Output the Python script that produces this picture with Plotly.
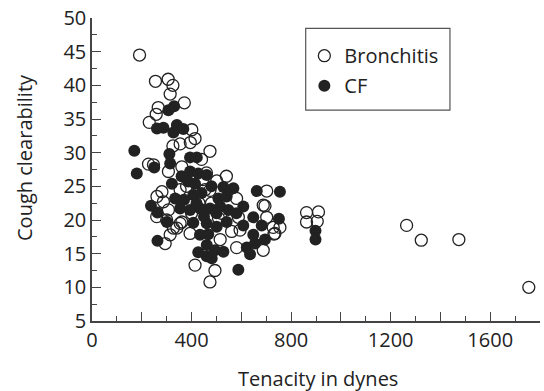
import plotly.graph_objects as go

# Tenacity (dynes) and cough clearability for each sputum sample
bronchitis_tenacity = [
    191, 255, 306, 325, 314, 371, 266, 258, 230, 401, 414, 325, 354, 474,
    227, 247, 307, 361, 501, 354, 454, 474, 281, 261, 287, 307, 581, 688,
    702, 702, 728, 341, 314, 294, 361, 394, 515, 581, 688, 414, 494, 474,
    508, 588, 695, 755, 731, 862, 910, 862, 905, 1264, 1323, 1474, 1755,
    327, 354, 561, 595, 735, 380, 430, 445, 520, 400, 460, 480, 540, 260,
    300, 440, 395,
]
bronchitis_clearability = [
    44.5, 40.6, 40.9, 40.0, 38.7, 37.4, 36.7, 35.7, 34.5, 33.4, 32.1, 31.0, 31.3, 30.2,
    28.3, 28.2, 27.2, 27.9, 25.8, 24.5, 24.5, 24.4, 24.2, 23.5, 22.7, 21.5, 23.2, 22.2,
    24.3, 20.4, 18.9, 18.8, 17.8, 16.5, 19.7, 18.0, 17.1, 15.9, 15.5, 13.3, 12.5, 10.8,
    20.3, 20.4, 22.1, 18.9, 17.9, 21.1, 21.2, 19.7, 19.8, 19.2, 17.0, 17.1, 10.0,
    18.8, 19.5, 18.3, 18.5, 18.0, 25.0, 22.5, 26.0, 21.0, 21.0, 27.0, 22.5, 26.5, 20.5,
    20.0, 29.0, 31.5,
]

cf_tenacity = [
    170, 180, 250, 261, 287, 307, 330, 341, 367, 327, 311, 394, 421, 314,
    394, 427, 461, 321, 387, 414, 528, 568, 662, 755, 334, 407, 508, 541,
    237, 263, 354, 394, 434, 474, 515, 548, 608, 301, 407, 461, 501, 541,
    608, 648, 682, 751, 263, 434, 467, 648, 695, 622, 635, 427, 461, 494,
    528, 461, 481, 588, 898, 898, 655, 440, 480, 370, 450, 500, 420, 360,
    580,
]
cf_clearability = [
    30.3, 26.9, 27.8, 33.6, 33.7, 36.3, 36.9, 34.1, 33.5, 33.0, 29.8, 29.3, 29.3, 28.4,
    27.2, 26.9, 26.7, 25.4, 25.7, 25.4, 24.9, 24.7, 24.3, 24.2, 23.2, 23.7, 23.2, 23.5,
    22.1, 21.1, 21.7, 21.5, 21.7, 21.7, 22.0, 21.5, 22.0, 19.7, 19.6, 19.5, 19.0, 19.7,
    19.2, 20.4, 19.2, 20.2, 16.9, 17.8, 17.9, 17.8, 17.1, 15.9, 14.9, 15.2, 14.6, 15.5,
    15.3, 16.3, 14.3, 12.6, 18.4, 17.1, 16.5, 24.0, 25.0, 23.0, 20.5, 21.0, 22.5, 26.5,
    21.0,
]

x_tickvals = [0, 200, 400, 600, 800, 1000, 1200, 1400, 1600, 1800]
x_ticktext = ["0", "", "400", "", "800", "", "1200", "", "1600", ""]
y_tickvals = [5, 10, 15, 20, 25, 30, 35, 40, 45, 50]

FONT = "Open Sans"
INK = "#222222"
AXIS = "#444444"

fig = go.Figure()
fig.add_trace(go.Scatter(
    x=bronchitis_tenacity, y=bronchitis_clearability, mode="markers",
    name="Bronchitis", legendgroup="b",
    marker=dict(symbol="circle-open", size=12, color=INK, line=dict(width=1.3, color=INK)),
))
fig.add_trace(go.Scatter(
    x=cf_tenacity, y=cf_clearability, mode="markers",
    name="CF", legendgroup="c",
    marker=dict(symbol="circle", size=12, color=INK, line=dict(width=0)),
))

axis_common = dict(
    showgrid=False, zeroline=False, showline=True, linecolor=AXIS, linewidth=1.5,
    ticks="inside", ticklen=9, tickwidth=1.2, tickcolor=AXIS,
    tickfont=dict(family=FONT, size=20, color=INK),
)
fig.update_xaxes(
    range=[0, 1800], tickmode="array", tickvals=x_tickvals, ticktext=x_ticktext,
    minor=dict(dtick=100, tick0=0, ticks="inside", ticklen=5, tickcolor=AXIS, tickwidth=1),
    **axis_common,
)
fig.update_yaxes(
    range=[5, 50], tickmode="array", tickvals=y_tickvals,
    minor=dict(dtick=2.5, tick0=0, ticks="inside", ticklen=5, tickcolor=AXIS, tickwidth=1),
    **axis_common,
)

fig.add_annotation(text="Tenacity in dynes", xref="paper", yref="paper",
                   x=0.505, y=-0.19, yanchor="middle", showarrow=False,
                   font=dict(family=FONT, size=20, color=INK))
fig.add_annotation(text="Cough clearability", xref="paper", yref="paper",
                   x=-0.152, y=0.541, xanchor="center", yanchor="middle",
                   textangle=-90, showarrow=False,
                   font=dict(family=FONT, size=20, color=INK))

# legend frame
fig.add_shape(type="rect", xref="paper", yref="paper",
              x0=0.477, x1=0.799, y0=0.696, y1=0.966,
              line=dict(color="#555555", width=1.2), fillcolor="rgba(0,0,0,0)")

fig.update_layout(
    width=544, height=391,
    margin=dict(l=92, r=4, t=18, b=70),
    plot_bgcolor="white", paper_bgcolor="white",
    showlegend=True,
    legend=dict(x=0.474, y=0.94, xanchor="left", yanchor="top",
                borderwidth=0, bgcolor="rgba(0,0,0,0)", tracegroupgap=1,
                font=dict(family=FONT, size=20, color=INK)),
)

fig.write_html("out.html")
